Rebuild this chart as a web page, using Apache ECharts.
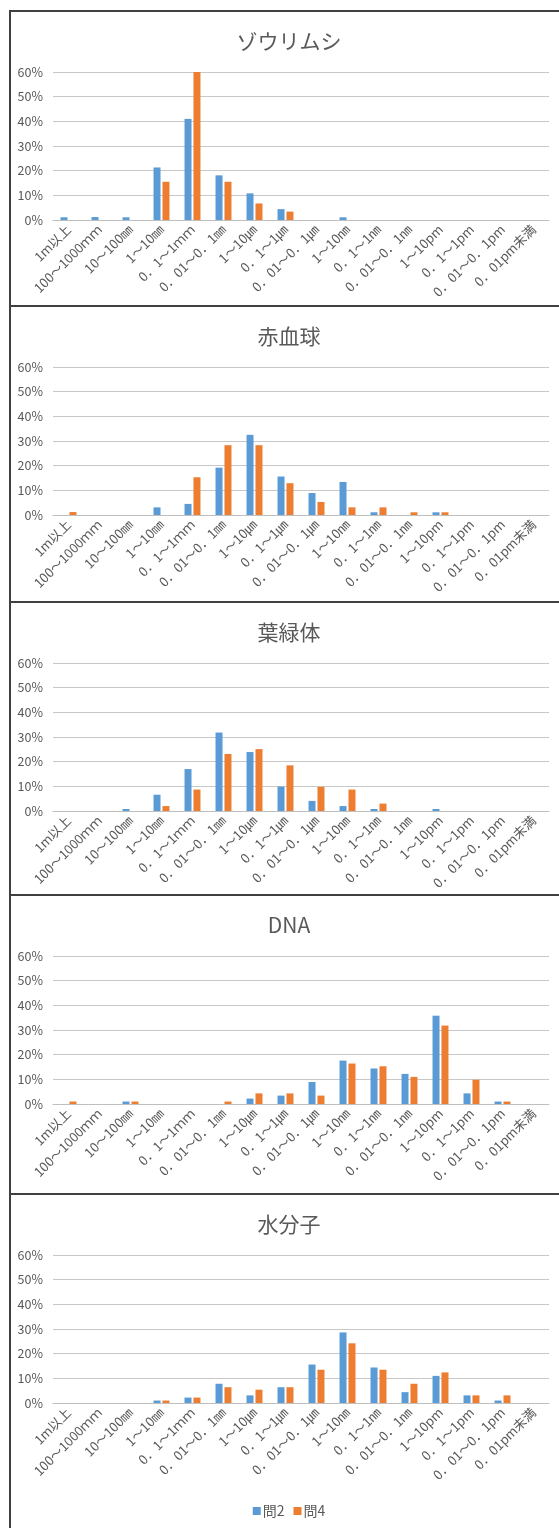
<!DOCTYPE html>
<html>
<head>
<meta charset="utf-8">
<script src="https://cdn.jsdelivr.net/npm/echarts@6/dist/echarts.min.js"></script>
<style>
  html, body { margin: 0; padding: 0; background: #fff; overflow: hidden; }
  body { width: 559px; height: 1528px; position: relative; }
  .panel {
    position: absolute;
    left: 9px;
    width: 556px;
    border-top: 2px solid #404040;
    border-left: 2px solid #404040;
    background: #fff;
  }
  .chart { width: 556px; height: 100%; }
</style>
</head>
<body>
<div class="panel" style="top:10px;height:293px"><div class="chart" id="c0"></div></div>
<div class="panel" style="top:305px;height:294px"><div class="chart" id="c1"></div></div>
<div class="panel" style="top:601px;height:291px"><div class="chart" id="c2"></div></div>
<div class="panel" style="top:894px;height:297px"><div class="chart" id="c3"></div></div>
<div class="panel" style="top:1193px;height:335px"><div class="chart" id="c4"></div></div>
<script>
// 大きさの区分
const categories = [
  '1m以上', '100～1000ｍｍ', '10～100㎜', '1～10㎜', '0．1～1ｍｍ', '0．01～0．1㎜',
  '1～10㎛', '0．1～1㎛', '0．01～0．1㎛', '1～10㎚', '0．1～1㎚', '0．01～0．1㎚',
  '1～10pm', '0．1～1pm', '0．01～0．1pm', '0．01pm未満'
];

const titles = ['ゾウリムシ', '赤血球', '葉緑体', 'DNA', '水分子'];
const seriesNames = ['問2', '問4'];
const yTicks = [0, 10, 20, 30, 40, 50, 60];

// 割合 (%)
const zourimushi2 = [1.1, 1.2, 1.1, 21.3, 41, 18.1, 10.8, 4.4, 0, 1.1, 0, 0, 0, 0, 0, 0];
const zourimushi4 = [0, 0, 0, 15.5, 60, 15.5, 6.7, 3.4, 0, 0, 0, 0, 0, 0, 0, 0];

const sekkekkyu2 = [0, 0, 0, 3.1, 4.5, 19.2, 32.5, 15.6, 8.9, 13.4, 1.1, 0, 1.1, 0, 0, 0];
const sekkekkyu4 = [1.2, 0, 0, 0, 15.3, 28.3, 28.3, 12.9, 5.3, 3.1, 3.1, 1.1, 1.1, 0, 0, 0];

const youryokutai2 = [0, 0, 0.8, 6.6, 17, 31.8, 23.9, 9.9, 4.1, 2.0, 0.8, 0, 0.8, 0, 0, 0];
const youryokutai4 = [0, 0, 0, 2.0, 8.7, 23.1, 25.1, 18.5, 9.8, 8.7, 3.0, 0, 0, 0, 0, 0];

const dna2 = [0, 0, 1, 0, 0, 0, 2.2, 3.4, 8.9, 17.6, 14.4, 12.2, 35.8, 4.3, 1, 0];
const dna4 = [1, 0, 1, 0, 0, 1, 4.3, 4.3, 3.4, 16.4, 15.3, 11, 31.8, 9.8, 1, 0];

const mizu2 = [0, 0, 0, 1, 2.2, 7.8, 3.1, 6.4, 15.6, 28.6, 14.4, 4.4, 11, 3.1, 1, 0];
const mizu4 = [0, 0, 0, 1, 2.2, 6.4, 5.4, 6.4, 13.5, 24.2, 13.5, 7.8, 12.4, 3.1, 3.1, 0];

const data2 = [zourimushi2, sekkekkyu2, youryokutai2, dna2, mizu2];
const data4 = [zourimushi4, sekkekkyu4, youryokutai4, dna4, mizu4];

const BLUE = '#5B9BD5';
const ORANGE = '#ED7D31';
const TEXT = '#595959';
const FONT = '"Noto Sans CJK JP", "Noto Sans", sans-serif';

titles.forEach((t, i) => {
  const myChart = echarts.init(document.getElementById('c' + i));
  const isLast = i === titles.length - 1;
  const option = {
    backgroundColor: '#fff',
    animation: false,
    textStyle: { fontFamily: FONT },
    title: {
      text: t,
      left: 'center',
      top: 14,
      textStyle: { fontSize: 21, fontWeight: 'normal', color: TEXT, fontFamily: FONT }
    },
    legend: {
      show: isLast,
      data: seriesNames,
      bottom: 7,
      left: 'center',
      itemWidth: 8,
      itemHeight: 8,
      itemGap: 9,
      icon: 'rect',
      textStyle: { fontSize: 14, color: TEXT, padding: [0, 0, 0, -3] }
    },
    grid: { left: 42, right: 18, top: 60, height: 148 },
    xAxis: {
      type: 'category',
      data: categories,
      axisTick: { show: false },
      axisLine: { lineStyle: { color: '#BFBFBF' } },
      axisLabel: {
        interval: 0,
        rotate: 45,
        fontSize: 13,
        color: TEXT,
        margin: 7
      }
    },
    yAxis: {
      type: 'value',
      min: yTicks[0],
      max: yTicks[yTicks.length - 1],
      interval: 10,
      axisLine: { show: false },
      axisTick: { show: false },
      splitLine: { lineStyle: { color: '#C8C8C8' } },
      axisLabel: { formatter: '{value}%', fontSize: 12.5, color: TEXT, margin: 10 }
    },
    series: [
      {
        name: seriesNames[0],
        type: 'bar',
        barWidth: 7,
        barGap: '28%',
        itemStyle: { color: BLUE },
        data: data2[i]
      },
      {
        name: seriesNames[1],
        type: 'bar',
        barWidth: 7,
        itemStyle: { color: ORANGE },
        data: data4[i]
      }
    ]
  };
  myChart.setOption(option);
});
</script>
</body>
</html>
